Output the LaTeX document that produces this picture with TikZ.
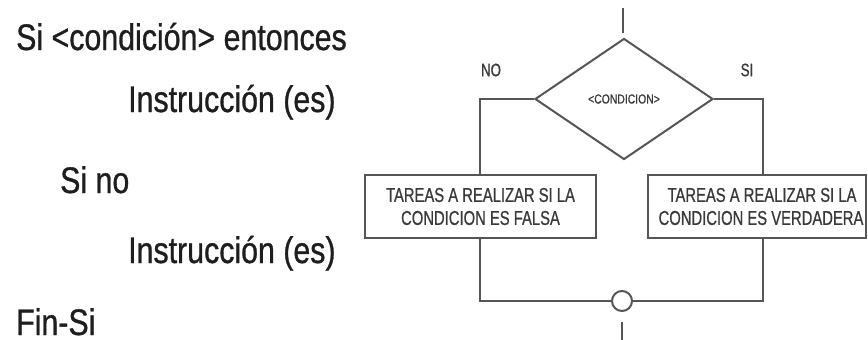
\documentclass[tikz,border=0pt]{standalone}
\usepackage{fontspec}
\setmainfont[FakeStretch=0.82,FakeBold=0.8]{Liberation Sans}
\newfontfamily\boxfont[FakeStretch=0.74,FakeBold=0.8]{Liberation Sans}
\newfontfamily\condfont[FakeStretch=0.8,FakeBold=0.8]{Liberation Sans}
\usetikzlibrary{shapes.geometric}
\definecolor{linegray}{HTML}{555555}
\definecolor{txtdark}{HTML}{1E1E1E}
\definecolor{boxtxt}{HTML}{3A3A3A}
\tikzset{
  pseudo/.style={anchor=base west, inner sep=0pt, text=txtdark, font=\fontsize{37}{40}\selectfont},
  flow/.style={draw=linegray, line width=2pt},
  taskbox/.style={draw=linegray, line width=2pt, inner sep=0pt, minimum height=63pt, align=center, text=boxtxt, font=\boxfont\fontsize{20}{23}\selectfont},
  branchlbl/.style={inner sep=0pt, text=boxtxt, font=\boxfont\fontsize{18}{20}\selectfont},
}
\begin{document}
\begin{tikzpicture}[x=1pt, y=-1pt]
\useasboundingbox (0,0) rectangle (868,340);
% pseudocode
\node[pseudo] (l1) at (16,50) {Si <condición> entonces};
\node[pseudo] (l2) at (128,112) {Instrucción (es)};
\node[pseudo] (l3) at (60,193) {Si no};
\node[pseudo] (l4) at (128,263) {Instrucción (es)};
\node[pseudo] (l5) at (16,335) {Fin-Si};
% flowchart
\node[diamond, draw=linegray, line width=2pt, inner sep=0pt, minimum width=178pt, minimum height=121pt, text=boxtxt, font=\condfont\fontsize{13}{14}\selectfont] (cond) at (624,99) {<CONDICION>};
\coordinate (in1) at (623,8);
\coordinate (in2) at (623,33);
\draw[flow] (in1) -- (in2);
\node[branchlbl] (no) at (491,70) {NO};
\node[branchlbl] (si) at (747,70) {SI};
\node[taskbox, minimum width=231pt] (fbox) at (480.5,206.5) {TAREAS A REALIZAR SI LA\\CONDICION ES FALSA};
\node[taskbox, minimum width=218pt] (vbox) at (757,206.5) {\hspace*{10pt}TAREAS A REALIZAR SI LA\\\hspace*{8pt}CONDICION ES VERDADERA};
\node[circle, draw=linegray, line width=2pt, fill=white, inner sep=0pt, minimum size=20pt] (join) at (622,301) {};
\coordinate (L) at (480,0);
\coordinate (R) at (763,0);
\draw[flow] (cond.west) -| (L |- fbox.north);
\draw[flow] (cond.east) -| (R |- vbox.north);
\draw[flow] (L |- fbox.south) |- (join.west);
\draw[flow] (R |- vbox.south) |- (join.east);
\coordinate (out1) at (622,322);
\coordinate (out2) at (622,340);
\draw[flow] (out1) -- (out2);
\end{tikzpicture}
\end{document}
